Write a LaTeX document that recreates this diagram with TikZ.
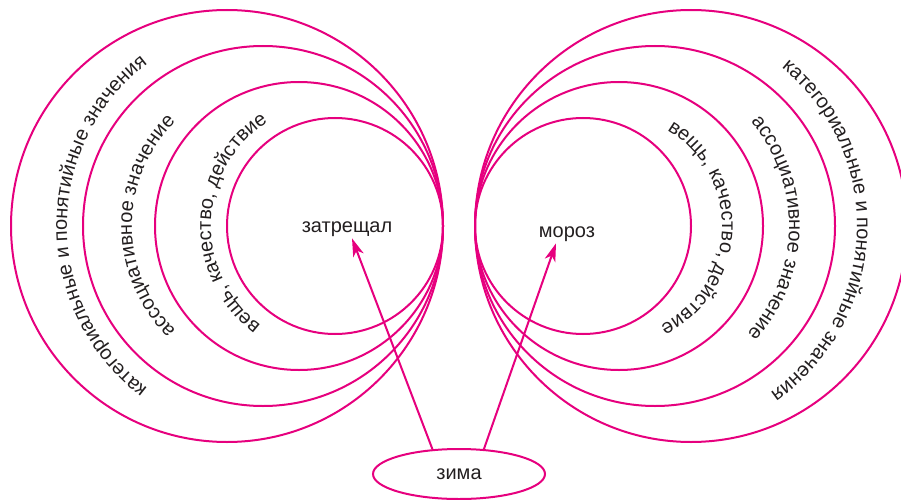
\documentclass[tikz,border=0pt]{standalone}
\usepackage{fontspec}
\setmainfont{Liberation Sans}
\usepackage{tikz}
\usetikzlibrary{positioning, shapes, arrows.meta, decorations.text}
\definecolor{rose}{HTML}{E6007E}
\definecolor{encre}{HTML}{231F20}
\newcommand{\lettres}{\fontsize{20}{24}\selectfont\color{encre}}

\begin{document}
\begin{tikzpicture}[x=1pt, y=1pt, >={Stealth[length=18pt, width=11pt, inset=5pt]}]
        % Définition des styles
        \tikzstyle{cercle} = [draw=rose, line width=2pt]
        \tikzstyle{mot} = [font=\lettres, inner sep=2pt, anchor=base]
        \tikzstyle{bulle} = [draw=rose, line width=2pt, ellipse, minimum width=172pt, minimum height=50pt, inner sep=0pt, font=\lettres]
        \tikzstyle{fleche} = [->, draw=rose, line width=2pt]
        \tikzstyle{legende} = [decorate, decoration={text along path, text align=center}]

        \useasboundingbox (0,0) rectangle (901,499);

        % Cercles de gauche, tangents au point (443,273)
        \foreach \r in {216,180,144,108}
            \draw[cercle] (443-\r,273) circle (\r);

        % Cercles de droite, tangents au point (475,273)
        \foreach \r in {216,180,144,108}
            \draw[cercle] (475+\r,273) circle (\r);

        % Légendes courbes à gauche
        \path[legende, decoration={text={|\lettres|категориальные и понятийные значения}}]
            (271,273) ++(240:204) arc[start angle=240, end angle=120, radius=204];
        \path[legende, decoration={text={|\lettres|ассоциативное значение}}]
            (278,273) ++(240:146) arc[start angle=240, end angle=120, radius=146];
        \path[legende, decoration={text={|\lettres|вещь{,} качество{,} действие}}]
            (335,273) ++(240:124) arc[start angle=240, end angle=116, radius=124];

        % Légendes courbes à droite
        \path[legende, decoration={text={|\lettres|категориальные и понятийные значения}}]
            (654,273) ++(70:203) arc[start angle=70, end angle=-74, radius=203];
        \path[legende, decoration={text={|\lettres|ассоциативное значение}}]
            (628,273) ++(60:161) arc[start angle=60, end angle=-62, radius=161];
        \path[legende, decoration={text={|\lettres|вещь{,} качество{,} действие}}]
            (611,273) ++(70:111) arc[start angle=70, end angle=-74, radius=111];

        % Mots
        \node[mot] (zat) at (347,267) {затрещал};
        \node[mot] (moroz) at (567,262) {мороз};
        \node[bulle] (zima) at (459,25) {зима};

        % Flèches
        \draw[fleche] (zima.137) -- ([xshift=5pt]zat.south);
        \draw[fleche] (zima.45) -- ([xshift=-11pt]moroz.south);

    \end{tikzpicture}
\end{document}
